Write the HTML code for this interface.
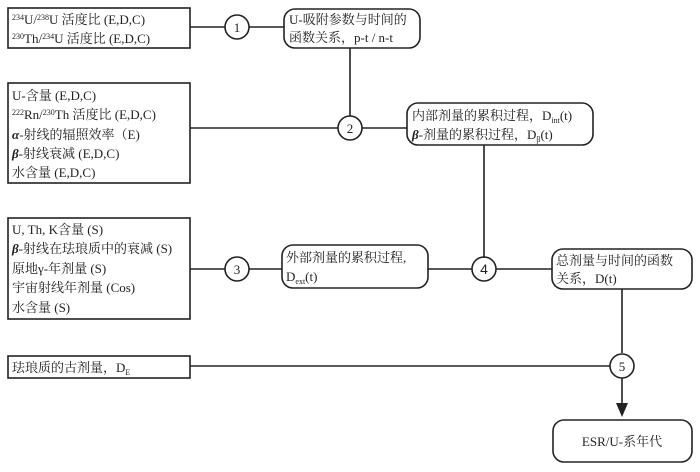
<!DOCTYPE html>
<html><head><meta charset="utf-8"><style>
html,body{margin:0;padding:0;background:#fff;}
svg text{font-family:"Liberation Serif","Noto Serif CJK SC","Noto Sans CJK SC",serif;font-size:13px;fill:#222;}
.b{font-weight:bold;font-style:italic;}
</style></head><body>
<svg width="700" height="467" viewBox="0 0 700 467" xmlns="http://www.w3.org/2000/svg">
<g fill="none" stroke="#222" stroke-width="1.6">
<!-- left boxes -->
<rect x="8" y="8" width="182" height="40"/>
<rect x="8" y="83" width="182" height="100"/>
<rect x="8" y="218" width="182" height="101"/>
<rect x="8" y="356" width="182" height="22"/>
<!-- rounded boxes -->
<rect x="284" y="9" width="136" height="39" rx="11"/>
<rect x="407" y="103" width="186" height="42" rx="11"/>
<rect x="282" y="245" width="146" height="43" rx="11"/>
<rect x="552" y="249" width="140" height="40" rx="11"/>
<rect x="553" y="420" width="139" height="42" rx="11"/>
<!-- lines -->
<line x1="190" y1="27" x2="225" y2="27"/>
<line x1="249" y1="27" x2="284" y2="27"/>
<line x1="350" y1="48" x2="350" y2="116"/>
<line x1="190" y1="128" x2="338" y2="128"/>
<line x1="362" y1="128" x2="407" y2="128"/>
<line x1="484" y1="145" x2="484" y2="258"/>
<line x1="190" y1="269" x2="225" y2="269"/>
<line x1="249" y1="269" x2="282" y2="269"/>
<line x1="428" y1="269" x2="472" y2="269"/>
<line x1="496" y1="269" x2="552" y2="269"/>
<line x1="622" y1="289" x2="622" y2="353"/>
<line x1="190" y1="366" x2="610" y2="366"/>
<line x1="622" y1="378" x2="622" y2="406"/>
<!-- circles -->
<circle cx="237" cy="27" r="12"/>
<circle cx="350" cy="128" r="12"/>
<circle cx="237" cy="269" r="12"/>
<circle cx="484" cy="269" r="12"/>
<circle cx="622" cy="366" r="12"/>
</g>
<polygon points="616,403 628,403 622,417" fill="#222"/>
<g text-anchor="middle" style="font-size:15px">
<text x="237" y="32">1</text><text x="350" y="133">2</text><text x="237" y="274">3</text><text x="484" y="274" style="font-family:'Liberation Sans',sans-serif;font-size:14px">4</text><text x="622" y="371">5</text>
</g>
<!-- box1 -->
<text x="12" y="24"><tspan font-size="8" dy="-4">234</tspan><tspan dy="4">U/</tspan><tspan font-size="8" dy="-4">238</tspan><tspan dy="4">U 活度比 (E,D,C)</tspan></text>
<text x="12" y="43"><tspan font-size="8" dy="-4">230</tspan><tspan dy="4">Th/</tspan><tspan font-size="8" dy="-4">234</tspan><tspan dy="4">U 活度比 (E,D,C)</tspan></text>
<!-- box2 -->
<text x="12" y="100">U-含量 (E,D,C)</text>
<text x="12" y="119"><tspan font-size="8" dy="-4">222</tspan><tspan dy="4">Rn/</tspan><tspan font-size="8" dy="-4">230</tspan><tspan dy="4">Th 活度比 (E,D,C)</tspan></text>
<text x="12" y="139"><tspan class="b">α</tspan>-射线的辐照效率（E)</text>
<text x="12" y="158"><tspan class="b">β</tspan>-射线衰减 (E,D,C)</text>
<text x="12" y="177">水含量 (E,D,C)</text>
<!-- box3 -->
<text x="12" y="234">U, Th, K含量 (S)</text>
<text x="12" y="253"><tspan class="b">β</tspan>-射线在珐琅质中的衰减 (S)</text>
<text x="12" y="273">原地γ-年剂量 (S)</text>
<text x="12" y="292">宇宙射线年剂量 (Cos)</text>
<text x="12" y="312">水含量 (S)</text>
<!-- box DE -->
<text x="12" y="372">珐琅质的古剂量，D<tspan font-size="8" dy="3">E</tspan></text>
<!-- rounded A -->
<text x="289" y="24">U-吸附参数与时间的</text>
<text x="289" y="42">函数关系，p-t / n-t</text>
<!-- B -->
<text x="412" y="120">内部剂量的累积过程，D<tspan font-size="8" dy="3">int</tspan><tspan dy="-3">(t)</tspan></text>
<text x="412" y="139"><tspan class="b">β</tspan>-剂量的累积过程，D<tspan font-size="8" dy="3">β</tspan><tspan dy="-3">(t)</tspan></text>
<!-- C -->
<text x="286" y="262">外部剂量的累积过程,</text>
<text x="286" y="281">D<tspan font-size="8" dy="3">ext</tspan><tspan dy="-3">(t)</tspan></text>
<!-- D -->
<text x="556" y="265">总剂量与时间的函数</text>
<text x="556" y="283">关系，D(t)</text>
<!-- E -->
<text x="622" y="446" text-anchor="middle">ESR/U-系年代</text>
</svg>
</body></html>
